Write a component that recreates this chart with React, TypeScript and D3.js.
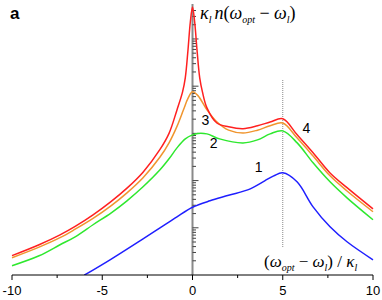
import React, { useRef, useEffect } from "react";
import * as d3 from "d3";

// x ticks and labels
const xTickValues = [-10, -5, 0, 5, 10];
const xMinorTicks = [-7.5, -2.5, 2.5, 7.5];

// curve 4 (red)
const curve4 = [
  [-10, 0.257], [-8.5, 0.437], [-7.34, 0.708], [-6.5, 1.07], [-5.51, 1.88], [-4.5, 3.63],
  [-3.63, 6.92], [-2.74, 15.1], [-1.8, 45.7], [-1.3, 100], [-0.86, 314], [-0.55, 755],
  [-0.4, 1500], [-0.25, 5850], [-0.12, 22900], [0, 47550], [0.12, 22900], [0.25, 5850],
  [0.4, 1500], [0.55, 755], [0.8, 347], [1.35, 166], [2, 138], [2.8, 126],
  [3.6, 145], [4.3, 174], [5, 204], [5.8, 93.3], [6.68, 38.9], [7.62, 14.5],
  [8.56, 7.08], [10, 2.51],
];

// curve 3 (orange)
const curve3 = [
  [-10, 0.232], [-8.5, 0.389], [-7.34, 0.617], [-6.5, 0.933], [-5.51, 1.58], [-4.5, 2.95],
  [-3.63, 5.5], [-2.74, 11.5], [-1.8, 31.6], [-1.3, 63.1], [-0.86, 141], [-0.5, 316],
  [-0.25, 550], [0, 759], [0.3, 631], [0.8, 316], [1.36, 174], [2, 117],
  [2.8, 102], [3.6, 117], [4.3, 145], [5, 166], [5.8, 79.4], [6.68, 33.1],
  [7.62, 12.6], [8.56, 6.03], [10, 2.19],
];

// curve 2 (green)
const curve2 = [
  [-10, 0.157], [-8.5, 0.255], [-7.34, 0.437], [-6.5, 0.645], [-5.51, 1.16], [-4.5, 2.08],
  [-3.63, 3.73], [-2.74, 7.38], [-1.8, 16.9], [-1.3, 28.9], [-0.86, 49.3], [-0.4, 76.5],
  [0, 93], [0.3, 100], [0.8, 97.6], [1.5, 76.5], [2.8, 62.9], [3.6, 72.8],
  [4.3, 97.6], [5, 113], [5.8, 62.9], [6.68, 23.8], [7.62, 9.41], [8.56, 4.31],
  [10, 1.48],
];

// curve 1 (blue)
const curve1 = [
  [-6, 0.099], [-4.57, 0.21], [-2.74, 0.585], [-1.8, 1.0], [-0.86, 1.71], [0, 2.72],
  [0.97, 3.73], [2, 4.87], [3.2, 6.69], [4, 9.88], [4.5, 12.6], [5, 14.6],
  [5.79, 9.41], [6.68, 2.78], [7.62, 1.05], [8.56, 0.506], [10, 0.21],
];

const curves = [
  { id: "1", data: curve1, color: "#1f1fff" },
  { id: "2", data: curve2, color: "#2ee82e" },
  { id: "3", data: curve3, color: "#f0952e" },
  { id: "4", data: curve4, color: "#ff2020" },
];

const curveLabels = [
  { id: "1", x: 3.45, y: 15 },
  { id: "2", x: 0.95, y: 50 },
  { id: "3", x: 0.5, y: 150 },
  { id: "4", x: 6.1, y: 100 },
];

const App = () => {
  const svgRef = useRef(null);
  const width = 382;
  const height = 300;

  useEffect(() => {
    const svg = d3.select(svgRef.current);
    svg.selectAll("*").remove();

    const xScale = d3.scaleLinear().domain([-10, 10]).range([12, 373]);
    const yScale = d3.scaleLog().domain([0.1, 47550]).range([275, 7]);

    svg
      .append("defs")
      .append("clipPath")
      .attr("id", "plot-clip")
      .append("rect")
      .attr("x", 0)
      .attr("y", 0)
      .attr("width", width)
      .attr("height", 275);

    // dotted line at x = 5
    svg
      .append("line")
      .attr("x1", xScale(5))
      .attr("x2", xScale(5))
      .attr("y1", 80)
      .attr("y2", 248)
      .attr("stroke", "#888")
      .attr("stroke-width", 1)
      .attr("stroke-dasharray", "1,1");

    // y axis at x = 0 with log ticks on the right side
    const yAxis = svg.append("g").attr("transform", `translate(${xScale(0)},0)`);
    yAxis
      .append("line")
      .attr("y1", 4)
      .attr("y2", 275)
      .attr("stroke", "#8a8a8a")
      .attr("stroke-width", 2);
    const logTicks = [];
    for (let e = -1; e <= 4; e++) {
      for (let m = 1; m <= 9; m++) {
        const v = m * Math.pow(10, e);
        if (v > 0.1 && v < 47550) logTicks.push({ v, major: m === 1 });
      }
    }
    yAxis
      .selectAll(".ytick")
      .data(logTicks)
      .join("line")
      .attr("x1", 0)
      .attr("x2", (d) => (d.major ? 6 : 3.5))
      .attr("y1", (d) => yScale(d.v))
      .attr("y2", (d) => yScale(d.v))
      .attr("stroke", "#444")
      .attr("stroke-width", 1);

    // curves
    const line = d3
      .line()
      .x((d) => xScale(d[0]))
      .y((d) => yScale(d[1]))
      .curve(d3.curveCatmullRom.alpha(0.5));

    curves.forEach((c) => {
      svg
        .append("path")
        .datum(c.data)
        .attr("fill", "none")
        .attr("stroke", c.color)
        .attr("stroke-width", 1.5)
        .attr("clip-path", "url(#plot-clip)")
        .attr("d", line);
    });

    // x axis
    const xAxis = svg.append("g").attr("transform", "translate(0,275)");
    xAxis
      .append("line")
      .attr("x1", xScale(-10))
      .attr("x2", xScale(10))
      .attr("stroke", "#000")
      .attr("stroke-width", 1);
    xAxis
      .selectAll(".xmajor")
      .data(xTickValues)
      .join("line")
      .attr("x1", (d) => xScale(d))
      .attr("x2", (d) => xScale(d))
      .attr("y1", 0)
      .attr("y2", 5)
      .attr("stroke", "#000");
    xAxis
      .selectAll(".xminor")
      .data(xMinorTicks)
      .join("line")
      .attr("x1", (d) => xScale(d))
      .attr("x2", (d) => xScale(d))
      .attr("y1", 0)
      .attr("y2", 3)
      .attr("stroke", "#000");
    xAxis
      .selectAll(".xlabel")
      .data(xTickValues)
      .join("text")
      .attr("x", (d) => xScale(d))
      .attr("y", 20)
      .attr("text-anchor", "middle")
      .style("font-family", "Arial, 'Liberation Sans', sans-serif")
      .style("font-size", "13px")
      .text((d) => d);

    // curve labels
    svg
      .selectAll(".clabel")
      .data(curveLabels)
      .join("text")
      .attr("x", (d) => xScale(d.x))
      .attr("y", (d) => yScale(d.y))
      .style("font-family", "Arial, 'Liberation Sans', sans-serif")
      .style("font-size", "14px")
      .text((d) => d.id);

    // panel letter
    svg
      .append("text")
      .attr("x", 10)
      .attr("y", 19)
      .style("font-family", "Arial, 'Liberation Sans', sans-serif")
      .style("font-size", "17px")
      .style("font-weight", "bold")
      .text("a");

    const serif = "'Liberation Serif', 'Times New Roman', serif";

    // y axis title: κl n(ωopt − ωl)
    const yt = svg
      .append("text")
      .attr("x", 200)
      .attr("y", 19)
      .style("font-family", serif)
      .style("font-size", "18px");
    yt.append("tspan").style("font-style", "italic").text("κ");
    yt.append("tspan").attr("dy", 4).style("font-style", "italic").style("font-size", "10px").text("l");
    yt.append("tspan").attr("dy", -4).attr("dx", 3).style("font-style", "italic").text("n");
    yt.append("tspan").text("(");
    yt.append("tspan").style("font-style", "italic").text("ω");
    yt.append("tspan").attr("dy", 4).style("font-style", "italic").style("font-size", "10px").text("opt");
    yt.append("tspan").attr("dy", -4).text(" − ");
    yt.append("tspan").style("font-style", "italic").text("ω");
    yt.append("tspan").attr("dy", 4).style("font-style", "italic").style("font-size", "10px").text("l");
    yt.append("tspan").attr("dy", -4).text(")");

    // x axis title: (ωopt − ωl) / κl
    const xt = svg
      .append("text")
      .attr("x", 264)
      .attr("y", 267)
      .style("font-family", serif)
      .style("font-size", "17px");
    xt.append("tspan").text("(");
    xt.append("tspan").style("font-style", "italic").text("ω");
    xt.append("tspan").attr("dy", 4).style("font-style", "italic").style("font-size", "10px").text("opt");
    xt.append("tspan").attr("dy", -4).text(" − ");
    xt.append("tspan").style("font-style", "italic").text("ω");
    xt.append("tspan").attr("dy", 4).style("font-style", "italic").style("font-size", "10px").text("l");
    xt.append("tspan").attr("dy", -4).text(") / ");
    xt.append("tspan").style("font-style", "italic").text("κ");
    xt.append("tspan").attr("dy", 4).style("font-style", "italic").style("font-size", "10px").text("l");
  }, []);

  return (
    <svg
      ref={svgRef}
      width={width}
      height={height}
      style={{ position: "absolute", left: 0, top: 0, background: "#fff" }}
    />
  );
};

export default App;
